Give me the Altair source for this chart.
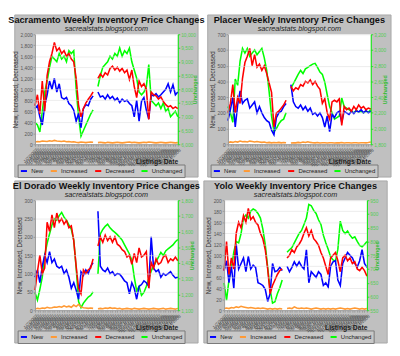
import altair as alt
import pandas as pd

# ---------------- data ----------------
WEEKS = [f"{d.month}/{d.day}/{d.year}" for d in pd.date_range("2007-01-07", periods=60, freq="7D")]
GAP = 25
SERIES = ["New", "Increased", "Decreased", "Unchanged"]
COLORS = ["#0000ff", "#ff9933", "#ff0000", "#00ff00"]

SAC_NEW = [650, 700, 500, 350, 700, 900, 1150, 1000, 1200, 950,
           1100, 850, 820, 850, 740, 700, 620, 420, 560, 300,
           650, 720, 700, 820, 880, None, 950, 860, 880, 820,
           900, 830, 870, 800, 840, 760, 820, 780, 800, 740,
           700, 500, 800, 420, 780, 850, 620, 460, 900, 880,
           920, 860, 900, 950, 1000, 1100, 950, 1080, 900, 950]
SAC_INC = [40, 50, 45, 60, 55, 50, 65, 55, 70, 60,
           55, 50, 60, 45, 50, 40, 45, 35, 30, 40,
           35, 30, 35, 40, 35, None, 30, 35, 30, 25,
           35, 30, 25, 30, 35, 30, 25, 30, 35, 40,
           30, 35, 30, 25, 30, 35, 30, 40, 35, 30,
           25, 30, 35, 30, 25, 30, 35, 30, 25, 30]
SAC_DEC = [700, 900, 550, 1150, 600, 1250, 1500, 1650, 1850, 1700,
           1750, 1650, 1700, 1600, 1650, 1550, 1500, 1200, 700, 500,
           650, 750, 820, 880, 950, None, 1200, 1280, 1220, 1300,
           1260, 1380, 1420, 1350, 1400, 1330, 1380, 1300, 1350, 1180,
           1350, 1050, 850, 1150, 1050, 1100, 1000, 450, 950, 900,
           880, 820, 860, 780, 720, 680, 700, 650, 680, 650]
SAC_UNCH = [6800, 6700, 6450, 7200, 7900, 8300, 8800, 9200, 9100, 9000,
            9300, 9100, 9200, 9000, 9400, 9300, 9400, 8000, 7000, 6300,
            6500, 6700, 6900, 7100, 7250, None, 8100, 8500, 8800, 8900,
            9000, 9200, 9100, 9300, 9200, 9500, 9200, 9400, 9300, 9500,
            9000, 8700, 8400, 7900, 7800, 7900, 8100, 8900, 7600, 7500,
            7400, 7500, 7300, 7500, 7200, 7300, 7000, 7100, 7200, 7000]

PLA_NEW = [150, 220, 300, 110, 250, 340, 260, 280, 290, 230,
           250, 270, 200, 240, 200, 170, 150, 140, 90, 60,
           170, 200, 210, 240, 260, None, 380, 270, 240, 230,
           250, 220, 240, 210, 230, 190, 200, 180, 200, 170,
           110, 180, 80, 190, 170, 200, 210, 140, 210, 200,
           190, 210, 195, 215, 205, 220, 200, 215, 200, 210]
PLA_INC = [10, 15, 12, 18, 14, 20, 16, 18, 15, 20,
           17, 14, 18, 15, 12, 14, 10, 12, 9, 11,
           10, 12, 9, 11, 10, None, 8, 10, 9, 12,
           10, 14, 11, 16, 12, 10, 9, 11, 8, 10,
           9, 8, 10, 9, 8, 10, 9, 11, 8, 9,
           10, 8, 9, 10, 8, 9, 10, 9, 11, 14]
PLA_DEC = [200, 260, 380, 200, 300, 260, 420, 520, 560, 610,
           500, 570, 490, 510, 470, 500, 450, 390, 330, 110,
           200, 210, 230, 250, 280, None, 370, 340, 360, 350,
           380, 370, 400, 390, 410, 380, 400, 370, 350, 260,
           290, 200, 160, 270, 280, 270, 290, 120, 240, 220,
           230, 210, 240, 220, 250, 230, 240, 220, 230, 225]
PLA_UNCH = [2280, 2200, 2080, 2630, 2550, 2860, 3020, 2960, 3020, 2920,
            2960, 3000, 2940, 2980, 3020, 2900, 2740, 2470, 2160, 1960,
            2000, 2060, 2100, 2120, 2200, None, 2510, 2570, 2630, 2690,
            2740, 2700, 2760, 2780, 2800, 2820, 2830, 2780, 2720, 2690,
            2590, 2430, 2280, 2200, 2120, 2140, 2160, 2390, 2280, 2260,
            2240, 2220, 2200, 2230, 2210, 2220, 2200, 2220, 2210, 2240]

ELD_NEW = [90, 110, 75, 120, 150, 130, 160, 130, 140, 120,
           115, 120, 100, 110, 90, 60, 75, 55, 30, 105,
           95, 110, 100, 120, 130, None, 270, 120, 110, 105,
           115, 100, 105, 95, 100, 98, 90, 80, 75, 45,
           75, 60, 30, 65, 70, 80, 75, 65, 200, 115,
           105, 110, 90, 100, 95, 100, 105, 95, 88, 90]
ELD_INC = [3, 5, 4, 6, 5, 8, 6, 7, 9, 8,
           10, 8, 12, 9, 11, 8, 14, 10, 16, 9,
           7, 6, 5, 6, 5, None, 4, 5, 4, 6,
           5, 7, 5, 6, 4, 5, 3, 4, 5, 4,
           3, 5, 4, 3, 4, 5, 4, 3, 4, 5,
           4, 3, 4, 5, 3, 4, 5, 4, 3, 5]
ELD_DEC = [55, 105, 150, 100, 115, 240, 215, 260, 225, 265,
           240, 250, 235, 245, 225, 230, 190, 120, 60, 45,
           110, 100, 110, 115, 140, None, 175, 200, 185, 205,
           190, 200, 185, 200, 180, 175, 165, 160, 145, 150,
           125, 155, 130, 170, 145, 150, 160, 60, 130, 115,
           140, 125, 130, 145, 150, 130, 140, 135, 145, 135]
ELD_UNCH = [1213, 1165, 1233, 1311, 1448, 1526, 1585, 1643, 1683, 1673,
            1702, 1722, 1692, 1673, 1643, 1614, 1546, 1370, 1155, 1116,
            1145, 1165, 1184, 1194, 1217, None, 1330, 1585, 1614, 1634,
            1647, 1624, 1608, 1595, 1581, 1565, 1546, 1516, 1487, 1458,
            1419, 1311, 1223, 1252, 1194, 1213, 1252, 1301, 1350, 1380,
            1409, 1438, 1468, 1448, 1477, 1491, 1503, 1516, 1536, 1550]

YOL_NEW = [72, 90, 50, 80, 40, 120, 75, 85, 95, 70,
           98, 75, 82, 78, 50, 48, 45, 38, 16, 30,
           85, 70, 72, 78, 72, None, 80, 70, 78, 88,
           80, 88, 80, 75, 110, 50, 70, 65, 60, 70,
           65, 45, 50, 42, 80, 88, 90, 55, 45, 85,
           95, 105, 100, 95, 85, 78, 90, 110, 85, 78]
YOL_INC = [3, 4, 3, 5, 4, 6, 5, 7, 6, 5,
           4, 5, 4, 3, 4, 3, 4, 3, 2, 3,
           2, 3, 2, 3, 2, None, 3, 4, 3, 6,
           4, 3, 4, 3, 4, 3, 2, 3, 4, 3,
           2, 3, 2, 3, 2, 3, 2, 3, 4, 3,
           2, 3, 2, 3, 4, 3, 2, 3, 2, 3]
YOL_DEC = [72, 125, 65, 95, 75, 140, 160, 150, 172, 160,
           185, 165, 170, 160, 155, 140, 130, 110, 75, 30,
           45, 55, 65, 72, 75, None, 95, 100, 110, 105,
           115, 120, 128, 140, 150, 135, 145, 130, 125, 118,
           105, 95, 80, 65, 95, 100, 105, 90, 70, 95,
           100, 90, 95, 85, 88, 75, 72, 78, 72, 62]
YOL_UNCH = [649, 587, 660, 705, 761, 800, 795, 829, 885, 896,
            885, 910, 918, 913, 902, 885, 845, 789, 705, 626,
            576, 581, 610, 632, 660, None, 761, 770, 778, 795,
            812, 829, 840, 862, 885, 935, 930, 913, 902, 879,
            862, 823, 795, 772, 744, 733, 728, 772, 874, 840,
            829, 838, 823, 812, 817, 800, 786, 781, 789, 800]

SAC_LEFT = [0, 200, 400, 600, 800, 1000, 1200, 1400, 1600, 1800, 2000]
SAC_RIGHT = [6000, 6500, 7000, 7500, 8000, 8500, 9000, 9500, 10000]
PLA_LEFT = [0, 100, 200, 300, 400, 500, 600, 700]
PLA_RIGHT = [1800, 2000, 2200, 2400, 2600, 2800, 3000, 3200]
ELD_LEFT = [0, 50, 100, 150, 200, 250, 300]
ELD_RIGHT = [1100, 1200, 1300, 1400, 1500, 1600, 1700, 1800]
YOL_LEFT = [0, 20, 40, 60, 80, 100, 120, 140, 160, 180, 200]
YOL_RIGHT = [550, 600, 650, 700, 750, 800, 850, 900, 950]

# ---------------- styling ----------------
W, H = 148, 114
NARROW = "Liberation Sans Narrow, Arial Narrow, Liberation Sans, sans-serif"
SANS = "Liberation Sans, Arial, sans-serif"
one = alt.Data(values=[{"k": 0}])


def long_df(series):
    rows = []
    for name, arr in series:
        for i, v in enumerate(arr):
            if v is None:
                continue
            rows.append({"Week": WEEKS[i], "Series": name, "Value": v,
                         "Seg": int(i > GAP), "Order": i})
    return pd.DataFrame(rows)


def panel(title, new, inc, dec, unch, lticks, rticks):
    left_df = long_df([("New", new), ("Increased", inc), ("Decreased", dec)])
    right_df = long_df([("Unchanged", unch)])

    xenc = alt.X("Week:O", sort=WEEKS,
                 scale=alt.Scale(domain=WEEKS, padding=0),
                 axis=alt.Axis(title="Listings Date", titleAnchor="end",
                               titleFont=NARROW, titleFontSize=7, titleFontWeight="bold",
                               titleColor="#222222", titleY=14, titleBaseline="top",
                               labelAngle=315, labelFont=NARROW, labelFontSize=4.8,
                               labelColor="#444444", labelOverlap=False, labelPadding=1,
                               tickSize=2, tickColor="#999999", domainColor="#999999",
                               grid=False, zindex=1))
    color = alt.Color("Series:N",
                      scale=alt.Scale(domain=SERIES, range=COLORS),
                      legend=alt.Legend(orient="none", legendX=-18, legendY=H + 21,
                                        direction="horizontal", columns=4, title=None,
                                        fillColor="#c8c8c8", strokeColor="#777777",
                                        padding=2, symbolType="stroke", symbolSize=40,
                                        symbolStrokeWidth=2, labelFont=SANS,
                                        labelFontSize=6.2, labelColor="#222222",
                                        labelOffset=3, columnPadding=3))

    bg = alt.Chart(one).mark_rect(fill="#c0c0c0", stroke="#a8a8a8", strokeWidth=1).encode(
        x=alt.value(-21), x2=alt.value(W + 21), y=alt.value(-20), y2=alt.value(H + 34))
    pbg = alt.Chart(one).mark_rect(fill="#ffffff").encode(
        x=alt.value(0), x2=alt.value(W), y=alt.value(0), y2=alt.value(H))
    t1 = alt.Chart(one).mark_text(font=NARROW, fontSize=9.5, fontWeight="bold",
                                  color="#111111", baseline="alphabetic").encode(
        x=alt.value(W / 2), y=alt.value(-11.5), text=alt.value(title))
    t2 = alt.Chart(one).mark_text(font=NARROW, fontSize=7.5, fontStyle="italic",
                                  color="#222222", baseline="alphabetic").encode(
        x=alt.value(W / 2), y=alt.value(-3.5), text=alt.value("sacrealstats.blogspot.com"))

    right = alt.Chart(right_df).mark_line(strokeWidth=1.6).encode(
        x=xenc,
        y=alt.Y("Value:Q",
                scale=alt.Scale(domain=[rticks[0], rticks[-1]], nice=False, zero=False),
                axis=alt.Axis(orient="right", values=rticks, title="Unchanged",
                              titleFont=SANS, titleFontSize=5.5, titleFontWeight="bold",
                              titleColor="#33bb33", titleAngle=270, titlePadding=2,
                              labelFont=NARROW, labelFontSize=5, labelColor="#55cc55",
                              labelPadding=1, tickSize=2, tickColor="#33dd33",
                              domainColor="#00ee00", grid=False, zindex=1)),
        color=color, detail="Seg:N", order=alt.Order("Order:Q"))

    left = alt.Chart(left_df).mark_line(strokeWidth=1.6).encode(
        x=xenc,
        y=alt.Y("Value:Q",
                scale=alt.Scale(domain=[lticks[0], lticks[-1]], nice=False),
                axis=alt.Axis(orient="left", values=lticks, title="New, Increased, Decreased",
                              titleFont=NARROW, titleFontSize=6.5, titleFontWeight="normal",
                              titleColor="#333333", titlePadding=2,
                              labelFont=NARROW, labelFontSize=5, labelColor="#555555",
                              labelPadding=1, tickSize=2, tickColor="#999999",
                              domainColor="#999999", grid=True, gridColor="#dedede",
                              gridWidth=0.6, zindex=1)),
        color=color, detail="Seg:N", order=alt.Order("Order:Q"))

    return alt.layer(bg, pbg, right, left, t1, t2).resolve_scale(y="independent").properties(
        width=W, height=H)


p1 = panel("Sacramento Weekly Inventory Price Changes", SAC_NEW, SAC_INC, SAC_DEC, SAC_UNCH, SAC_LEFT, SAC_RIGHT)
p2 = panel("Placer Weekly Inventory Price Changes", PLA_NEW, PLA_INC, PLA_DEC, PLA_UNCH, PLA_LEFT, PLA_RIGHT)
p3 = panel("El Dorado Weekly Inventory Price Changes", ELD_NEW, ELD_INC, ELD_DEC, ELD_UNCH, ELD_LEFT, ELD_RIGHT)
p4 = panel("Yolo Weekly Inventory Price Changes", YOL_NEW, YOL_INC, YOL_DEC, YOL_UNCH, YOL_LEFT, YOL_RIGHT)


def row(a, b):
    return alt.hconcat(a, b, spacing=2).resolve_scale(
        color="independent", x="independent", y="independent").resolve_legend(color="independent")


chart = alt.vconcat(row(p1, p2), row(p3, p4), spacing=2).resolve_scale(
    color="independent", x="independent", y="independent").resolve_legend(
    color="independent").properties(padding=0).configure(background="#ffffff").configure_view(
    strokeWidth=0)

chart.save("out.html", embed_options={"renderer": "svg", "actions": False})
